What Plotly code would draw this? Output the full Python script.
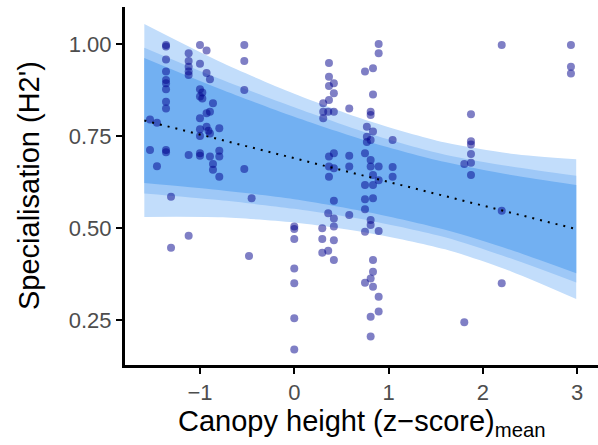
import plotly.graph_objects as go

# ---- data ----
col_x = [-1.53, -1.456, -1.36, -1.307, -1.12, -1.0, -0.975, -0.93, -0.91, -0.894,
         -0.862, -0.795, -0.53, -0.48, -0.452, 0.0, 0.297, 0.307, 0.36, 0.368,
         0.42, 0.583, 0.75, 0.77, 0.81, 0.835, 0.895, 1.043, 1.803, 1.874, 2.2, 2.934]
col_y = [
    [0.795, 0.712],
    [0.786, 0.668],
    [0.997, 0.993, 0.958, 0.925, 0.902, 0.893, 0.877, 0.843, 0.825, 0.712, 0.706],
    [0.585, 0.446],
    [0.975, 0.954, 0.938, 0.925, 0.916, 0.698, 0.479],
    [0.997, 0.946, 0.877, 0.857, 0.798, 0.768, 0.750, 0.703, 0.696],
    [0.868, 0.852],
    [0.982, 0.921, 0.812, 0.775],
    [0.764],
    [0.904, 0.816, 0.757, 0.694],
    [0.839, 0.674, 0.658],
    [0.771, 0.710, 0.694, 0.639],
    [0.997, 0.954, 0.875, 0.660],
    [0.424],
    [0.581],
    [0.504, 0.497, 0.470, 0.390, 0.350, 0.255, 0.170],
    [0.499, 0.470, 0.433],
    [0.839, 0.816, 0.798],
    [0.816, 0.540, 0.438],
    [0.948, 0.911, 0.886, 0.848, 0.694, 0.667, 0.639],
    [0.893, 0.866, 0.816, 0.703, 0.662, 0.574, 0.526, 0.504, 0.467, 0.413],
    [0.825, 0.696, 0.667, 0.535],
    [0.925, 0.703, 0.617, 0.578, 0.551, 0.490, 0.351],
    [0.775, 0.748, 0.734],
    [0.816, 0.807, 0.739, 0.685, 0.667, 0.522, 0.508, 0.363, 0.259, 0.205],
    [0.934, 0.863, 0.762, 0.644, 0.617, 0.581, 0.413, 0.381, 0.340],
    [1.000, 0.975, 0.667, 0.630, 0.492, 0.313, 0.273],
    [0.739, 0.666, 0.639],
    [0.674, 0.244],
    [0.809, 0.736, 0.727, 0.701, 0.677, 0.644],
    [0.997, 0.547, 0.350],
    [0.997, 0.938, 0.920],
]

band_x = [-1.59, -0.8, 0.0, 0.8, 1.6, 2.3, 2.99]
fit_y = [0.792, 0.741, 0.690, 0.638, 0.587, 0.542, 0.497]
outer_hi = [1.054, 0.953, 0.865, 0.790, 0.732, 0.702, 0.687]
outer_lo = [0.530, 0.529, 0.515, 0.486, 0.442, 0.382, 0.307]
mid_hi = [0.990, 0.906, 0.828, 0.756, 0.699, 0.667, 0.642]
mid_lo = [0.594, 0.576, 0.552, 0.520, 0.475, 0.417, 0.352]
inner_hi = [0.962, 0.879, 0.802, 0.734, 0.679, 0.644, 0.617]
inner_lo = [0.622, 0.603, 0.578, 0.542, 0.495, 0.440, 0.377]

x_ticks = [-1, 0, 1, 2, 3]
y_ticks = [0.25, 0.50, 0.75, 1.00]

pts_x, pts_y = [], []
for cx, ys in zip(col_x, col_y):
    for yv in ys:
        pts_x.append(cx)
        pts_y.append(yv)

fig = go.Figure()

def band(hi, lo, color):
    fig.add_trace(go.Scatter(
        x=band_x, y=lo, mode="lines",
        line=dict(width=0, shape="spline", smoothing=0.8),
        hoverinfo="skip", showlegend=False))
    fig.add_trace(go.Scatter(
        x=band_x, y=hi, mode="lines", fill="tonexty", fillcolor=color,
        line=dict(width=0, shape="spline", smoothing=0.8),
        hoverinfo="skip", showlegend=False))

band(outer_hi, outer_lo, "#c2ddfb")
band(mid_hi, mid_lo, "#9ec8f7")
band(inner_hi, inner_lo, "#72b0f2")

fig.add_trace(go.Scatter(
    x=pts_x, y=pts_y, mode="markers",
    marker=dict(size=8, color="rgba(0,0,139,0.5)", line=dict(width=0)),
    showlegend=False))

fig.add_trace(go.Scatter(
    x=band_x, y=fit_y, mode="lines",
    line=dict(color="black", width=2, dash="2px,6px"),
    showlegend=False))

axis_common = dict(
    showline=True, linecolor="black", linewidth=3, mirror=False,
    showgrid=False, zeroline=False,
    ticks="outside", ticklen=6, tickwidth=2, tickcolor="black",
    tickfont=dict(family="Liberation Sans, Arial, sans-serif", size=22, color="#4d4d4d"),
)

fig.update_xaxes(range=[-1.795, 3.221], tickvals=x_ticks, **axis_common)
fig.update_yaxes(range=[0.1277, 1.1005], tickvals=y_ticks, tickformat=".2f", **axis_common)

fig.update_layout(
    width=598, height=445,
    margin=dict(l=125, r=0, t=7, b=80),
    plot_bgcolor="white", paper_bgcolor="white",
    font=dict(family="Liberation Sans, Arial, sans-serif"),
    annotations=[
        dict(text="Canopy height (z\u2212score)<sub>mean</sub>", xref="paper", yref="paper",
             x=0.5, y=0, yshift=-58, xanchor="center", yanchor="middle", showarrow=False,
             font=dict(size=29, color="black")),
        dict(text="Specialisation (H2')", xref="paper", yref="paper",
             x=0, y=0.5, xshift=-96, textangle=-90, xanchor="center", yanchor="middle",
             showarrow=False, font=dict(size=29, color="black")),
    ],
)

fig.write_html("out.html")
